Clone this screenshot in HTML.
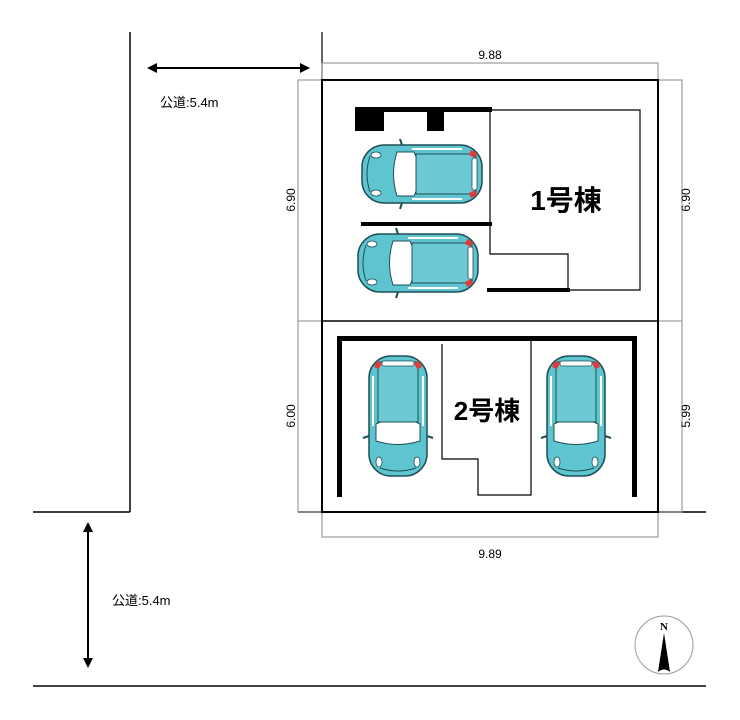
<!DOCTYPE html>
<html><head><meta charset="utf-8"><style>
html,body{margin:0;padding:0;background:#fff}
svg{display:block}
text{font-family:"Liberation Sans","Noto Sans CJK JP",sans-serif}
</style></head><body>
<svg width="740" height="720" viewBox="0 0 740 720" xmlns="http://www.w3.org/2000/svg">
<defs>
<g id="car">
  <!-- centered at 0,0, length 120 (front at -x), width 58 -->
  <rect x="-60" y="-29" width="120" height="58" rx="22" fill="#5ec4d0" stroke="#1d4f57" stroke-width="1.5"/>
  <path d="M-52,-18 Q-58,0 -52,18" fill="none" stroke="#1d4f57" stroke-width="1"/>
  <path d="M-25,-22 L-8,-22 Q-2,-10 -6,0 Q-2,10 -8,22 L-25,22 Q-32,0 -25,-22Z" fill="#fff" stroke="#1d4f57" stroke-width="1"/>
  <rect x="-6" y="-20" width="60" height="40" fill="#6cc9d4" stroke="#1d4f57" stroke-width="1"/>
  <rect x="50" y="-16" width="5" height="32" rx="2" fill="#fff" stroke="#1d4f57" stroke-width="0.8"/>
  <path d="M-10,-25 L40,-25 M-10,25 L40,25" stroke="#fff" stroke-width="2"/>
  <ellipse cx="-46" cy="-19" rx="5" ry="3" fill="#fff" stroke="#1d4f57" stroke-width="0.8"/>
  <ellipse cx="-46" cy="19" rx="5" ry="3" fill="#fff" stroke="#1d4f57" stroke-width="0.8"/>
  <path d="M49,-24 l6,3 l-2,5 l-6,-3z M49,24 l6,-3 l-2,-5 l-6,3z" fill="#e03a3a"/>
  <path d="M-20,-29 l-2,-6 M-20,29 l-2,6" stroke="#1d4f57" stroke-width="2"/>
</g>
</defs>
<g fill="none" stroke="#000">
  <!-- roads -->
  <line x1="130" y1="32" x2="130" y2="512" stroke-width="1.5"/>
  <line x1="33" y1="512" x2="130" y2="512" stroke-width="1.5"/>
  <line x1="298" y1="512" x2="706" y2="512" stroke-width="1.5"/>
  <line x1="33" y1="686" x2="706" y2="686" stroke="#444" stroke-width="2"/>
  <line x1="322" y1="32" x2="322" y2="80" stroke-width="1.2"/>
  <!-- dimension lines -->
  <g stroke="#888" stroke-width="1">
    <polyline points="322,80 322,63 658,63 658,80"/>
    <polyline points="322,512 322,537 658,537 658,512"/>
    <polyline points="322,80 298,80 298,512 322,512"/>
    <line x1="298" y1="321" x2="322" y2="321"/>
    <polyline points="658,80 682,80 682,512 658,512"/>
    <line x1="658" y1="321" x2="682" y2="321"/>
  </g>
  <!-- lot -->
  <rect x="322" y="80" width="336" height="432" stroke-width="2"/>
  <line x1="322" y1="321" x2="658" y2="321" stroke-width="1.5"/>
  <!-- building 1 -->
  <polyline points="490,110 640,110 640,290 568,290 568,254 490,254 490,110" stroke-width="1.2"/>
  <!-- building 2 -->
  <polyline points="442,344 442,459 478,459 478,495 531,495 531,341" stroke-width="1.2"/>
</g>
<g fill="#000">
  <rect x="355" y="107" width="137" height="5"/>
  <rect x="355" y="107" width="29" height="24"/>
  <rect x="427" y="107" width="17" height="24"/>
  <rect x="361" y="222" width="131" height="4"/>
  <rect x="487" y="288" width="83" height="4"/>
  <rect x="337" y="336" width="300" height="5"/>
  <rect x="337" y="336" width="5" height="161"/>
  <rect x="632" y="336" width="5" height="161"/>
  <!-- arrows -->
  <line x1="155" y1="68" x2="302" y2="68" stroke="#000" stroke-width="2"/>
  <path d="M147,68 l10,-5 v10z M310,68 l-10,-5 v10z"/>
  <line x1="88" y1="530" x2="88" y2="660" stroke="#000" stroke-width="2"/>
  <path d="M88,522 l-5,10 h10z M88,668 l-5,-10 h10z"/>
</g>
<use href="#car" transform="translate(422,174)"/>
<use href="#car" transform="translate(418,263)"/>
<use href="#car" transform="translate(398,416) rotate(-90)"/>
<use href="#car" transform="translate(576,416) rotate(-90)"/>
<!-- compass -->
<circle cx="664" cy="645" r="29" fill="none" stroke="#999" stroke-width="1"/>
<path d="M664,633 L670,672 Q664,667 658,672Z" fill="#000"/>
<text x="664" y="630" font-family="Liberation Serif,serif" font-size="11" font-weight="bold" text-anchor="middle" style="font-family:'Liberation Serif',serif">N</text>
<!-- labels -->
<g font-size="12" fill="#000">
  <text x="490" y="59" text-anchor="middle">9.88</text>
  <text x="490" y="558" text-anchor="middle">9.89</text>
  <text transform="translate(295,200) rotate(-90)" text-anchor="middle">6.90</text>
  <text transform="translate(295,416) rotate(-90)" text-anchor="middle">6.00</text>
  <text transform="translate(686,200) rotate(-90)" text-anchor="middle" dy="4">6.90</text>
  <text transform="translate(686,416) rotate(-90)" text-anchor="middle" dy="4">5.99</text>
  <text x="160" y="107" font-size="13">公道:5.4m</text>
  <text x="112" y="605" font-size="13">公道:5.4m</text>
</g>
<text x="566" y="210" font-size="28" text-anchor="middle" font-weight="bold">1号棟</text>
<text x="487" y="420" font-size="26" text-anchor="middle" font-weight="bold">2号棟</text>
</svg>
</body></html>
